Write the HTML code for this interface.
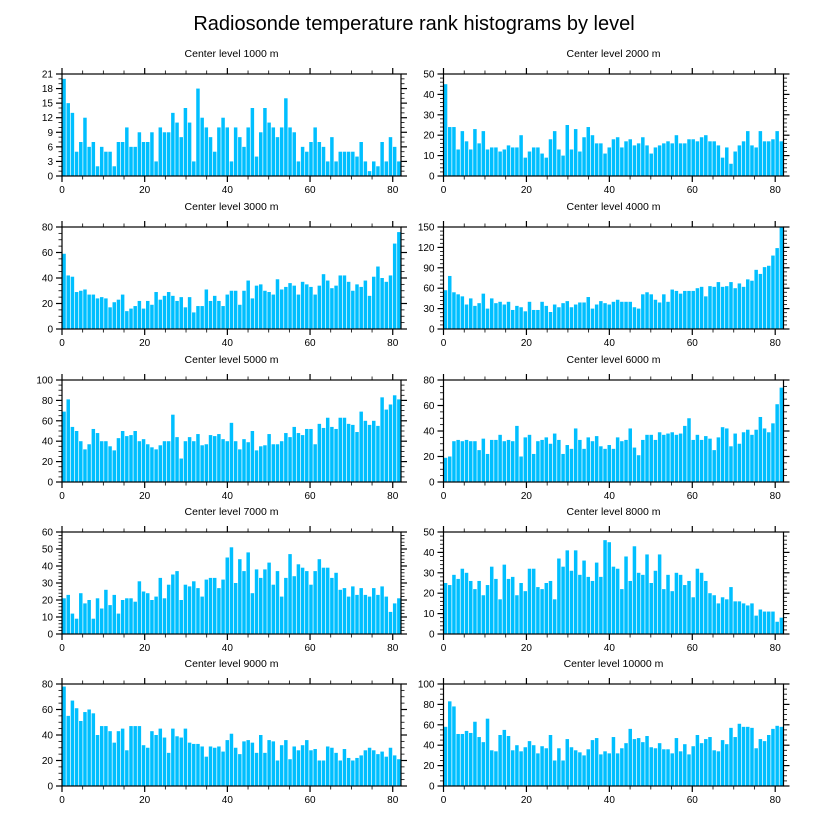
<!DOCTYPE html>
<html><head><meta charset="utf-8">
<style>
body{margin:0;background:#fff;}
svg{display:block;font-family:"Liberation Sans",sans-serif;}
</style></head>
<body>
<svg id="chart" width="822" height="824" viewBox="0 0 822 824" xmlns="http://www.w3.org/2000/svg">
<text x="414" y="30" font-size="20" text-anchor="middle" fill="#000">Radiosonde temperature rank histograms by level</text>
</svg>
<script>
const levels = ["1000","2000","3000","4000","5000","6000","7000","8000","9000","10000"];
const yMax = [21,50,80,150,100,80,60,50,80,100];
const yStep = [3,10,20,30,20,20,10,10,20,20];
const yMinor = [1,2,5,6,5,5,2,2,5,5];
const xTicks = [0,20,40,60,80];
const v1000 = [20,15,13,5,7,12,6,7,2,6,5,5,2,7,7,10,6,6,9,7,7,9,3,10,9,9,13,11,8,14,11,3,18,12,10,8,5,10,12,10,3,10,8,6,10,14,4,9,14,11,10,8,10,16,10,9,3,6,5,7,10,7,6,3,8,3,5,5,5,5,4,7,3,1,3,2,7,3,8,6,3];
const v2000 = [45,24,24,13,22,17,13,23,16,22,13,14,14,12,13,15,14,14,20,9,12,14,14,11,9,18,22,13,10,25,13,23,12,19,24,20,16,16,11,14,18,19,14,17,18,15,16,19,15,11,14,15,16,17,16,20,16,16,18,18,17,19,20,17,17,15,9,14,6,12,15,17,22,15,14,22,17,17,18,22,17];
const v3000 = [59,42,41,29,30,31,27,27,24,25,24,17,21,23,27,14,16,18,22,16,22,19,29,23,26,29,26,22,25,17,25,13,18,18,31,22,26,22,18,27,30,30,19,30,38,24,34,35,30,29,27,39,31,33,36,34,27,37,35,33,27,34,43,38,32,34,42,42,37,30,35,33,38,26,41,49,40,37,42,67,76];
const v4000 = [57,78,54,51,48,36,45,34,38,52,30,45,38,40,36,40,28,34,32,26,40,28,28,40,34,25,36,32,38,41,32,36,39,39,47,30,36,41,38,36,40,43,40,40,40,32,30,51,54,51,43,39,51,40,58,56,52,56,56,56,60,62,48,63,62,69,62,63,69,60,67,62,73,71,87,81,91,93,108,119,150];
const v5000 = [69,81,54,50,40,32,37,52,48,40,40,35,31,43,50,45,46,50,40,42,37,34,32,36,40,40,66,44,23,40,44,40,47,36,37,46,45,47,42,40,58,40,32,42,39,50,31,35,36,47,37,37,40,48,44,54,48,46,52,52,37,57,53,63,54,52,63,63,57,56,49,69,60,56,60,55,83,71,76,85,81];
const v6000 = [19,20,32,33,32,33,32,32,25,34,22,33,33,37,32,33,32,44,20,35,37,22,32,33,35,30,38,33,22,29,26,42,33,26,35,32,36,28,26,29,26,35,32,33,42,27,21,33,37,37,33,39,37,38,39,37,38,44,50,33,37,33,36,34,25,35,43,42,28,38,30,39,41,37,41,51,42,39,46,61,74];
const v7000 = [21,23,12,9,24,18,20,9,21,15,26,17,23,12,20,21,21,19,31,25,24,20,22,33,21,29,35,37,20,29,28,31,27,22,32,33,33,27,32,45,51,30,44,37,48,24,38,33,38,42,29,37,22,33,47,34,41,39,37,29,37,44,39,39,33,36,26,27,22,28,23,27,23,22,27,23,28,22,13,18,21];
const v8000 = [25,24,29,27,32,30,26,22,26,19,24,33,27,17,34,27,28,19,25,21,32,32,23,22,25,26,17,37,33,41,31,41,29,36,28,26,35,28,46,45,33,32,22,38,26,43,30,29,39,25,31,39,22,29,21,30,29,24,26,18,32,30,26,20,19,15,18,17,23,16,16,15,14,15,9,12,11,11,11,6,8];
const v9000 = [78,55,67,61,51,58,60,57,40,47,47,43,34,43,45,28,47,47,47,32,30,43,40,45,38,26,45,39,38,45,34,33,33,31,23,31,30,31,27,36,41,30,25,35,36,34,26,40,26,36,35,20,32,36,21,31,28,32,36,28,29,20,20,31,30,26,20,29,22,20,22,24,28,30,28,25,27,23,30,24,21];
const v10000 = [58,83,78,51,51,54,52,63,48,43,66,35,34,50,55,49,35,40,34,38,44,40,32,39,37,50,25,37,25,46,38,35,33,30,36,45,47,31,34,32,48,32,37,42,56,46,47,43,49,38,37,42,36,36,32,47,34,41,31,39,50,42,46,48,35,34,45,41,57,48,61,58,58,57,37,46,44,50,56,59,58];
const series = [v1000,v2000,v3000,v4000,v5000,v6000,v7000,v8000,v9000,v10000];

const NS = "http://www.w3.org/2000/svg";
const svg = document.getElementById("chart");
function mk(tag, attrs, parent){
  const e = document.createElementNS(NS, tag);
  for (const k in attrs) e.setAttribute(k, attrs[k]);
  (parent||svg).appendChild(e);
  return e;
}
const colX = [62, 443.5];
const W = [339, 340];
const rowY = [74, 227, 380, 532, 684];
const H = 102;
const XMAX = 82;

series.forEach((vals, p) => {
  const col = p % 2, row = Math.floor(p / 2);
  const x0 = colX[col], w = W[col], y0 = rowY[row];
  const xs = v => x0 + v / XMAX * w;
  const ys = v => y0 + H - v / yMax[p] * H;
  const g = mk("g", {});
  
  
  const t = mk("text", {x: x0 + w / 2, y: y0 - 17, "font-size": 10.5, "text-anchor": "middle", fill: "#000"}, g);
  t.textContent = "Center level " + levels[p] + " m";
  
  
  const n = vals.length;
  const bw = w * (n / n) / n;
  const unit = XMAX / n;
  vals.forEach((v, i) => {
    const bx = xs(i * unit * (n / XMAX) * (XMAX / n));
    const xa = x0 + i * (w / n), xb = x0 + (i + 1) * (w / n);
    const r = mk("rect", {x: xa + 0.3, y: ys(v), width: Math.max(0.5, xb - xa - 0.7), height: ys(0) - ys(v), fill: "#00bfff"}, g);
    
    
  });
  const frame = mk("rect", {x: x0, y: y0, width: w, height: H, fill: "none", stroke: "#000", "stroke-width": 1.2}, g);
  
  
  // x ticks
  for (let v = 0; v <= 80; v += 5) {
    const major = v % 20 === 0;
    const L = major ? 6 : 3.5;
    const x = xs(v);
    mk("line", {x1: x, x2: x, y1: y0 + H, y2: y0 + H + L, stroke: "#000", "stroke-width": major ? 1.2 : 0.8}, g);
    mk("line", {x1: x, x2: x, y1: y0, y2: y0 - L, stroke: "#000", "stroke-width": major ? 1.2 : 0.8}, g);
  }
  xTicks.forEach(v => {
    const tl = mk("text", {x: xs(v), y: y0 + H + 17, "font-size": 10, "text-anchor": "middle", fill: "#000"}, g);
    tl.textContent = v;
    
    
  });
  // y ticks
  for (let v = 0; v <= yMax[p] + 1e-9; v += yMinor[p]) {
    const major = Math.abs(v / yStep[p] - Math.round(v / yStep[p])) < 1e-6;
    const L = major ? 6 : 3.5;
    const y = ys(v);
    mk("line", {x1: x0, x2: x0 - L, y1: y, y2: y, stroke: "#000", "stroke-width": major ? 1.2 : 0.8}, g);
    mk("line", {x1: x0 + w, x2: x0 + w + L, y1: y, y2: y, stroke: "#000", "stroke-width": major ? 1.2 : 0.8}, g);
  }
  for (let v = 0; v <= yMax[p] + 1e-9; v += yStep[p]) {
    const tl = mk("text", {x: x0 - 9, y: ys(v) + 3.5, "font-size": 10, "text-anchor": "end", fill: "#000"}, g);
    tl.textContent = v;
    
    
  }
});
</script>
</body></html>
